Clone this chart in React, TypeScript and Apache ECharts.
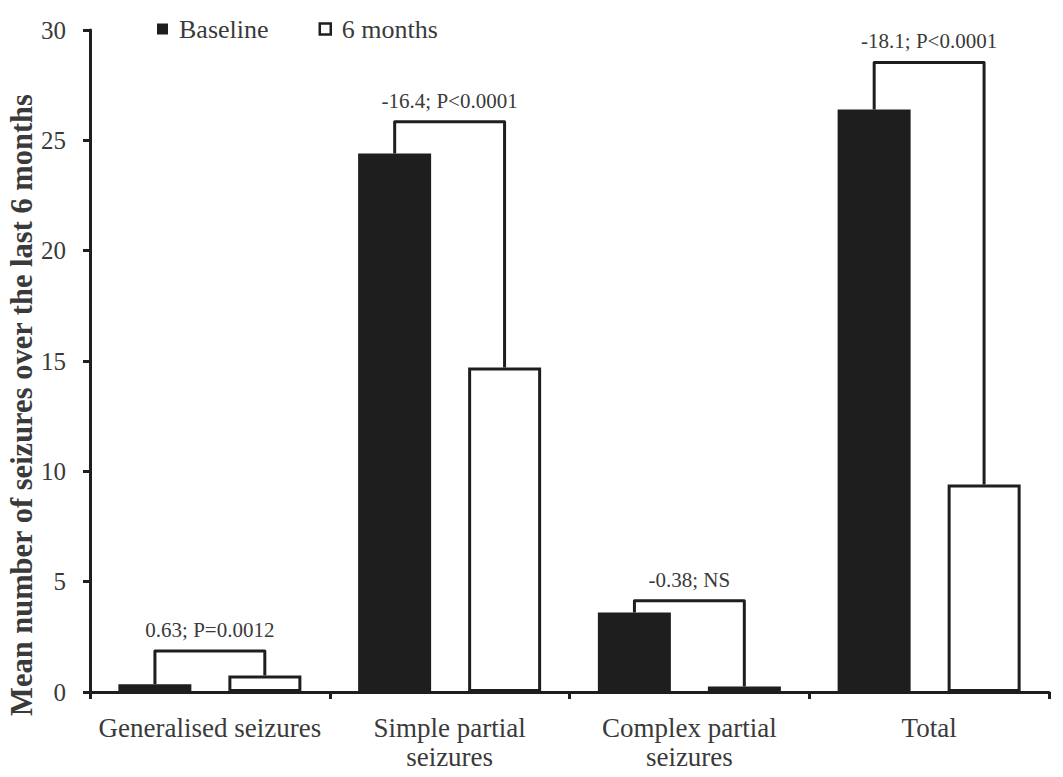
import React, { useEffect, useRef } from "react";
import * as echarts from "echarts";

const categories = ["Generalised seizures", "Simple partial\nseizures", "Complex partial\nseizures", "Total"];
const baseline = [0.35, 24.4, 3.6, 26.4];
const sixMonths = [0.75, 14.7, 0.25, 9.4];
const bracketTop = [1.86, 25.84, 4.14, 28.53];
const bracketLabels = ["0.63; P=0.0012", "-16.4; P<0.0001", "-0.38; NS", "-18.1; P<0.0001"];
const yTicks = { min: 0, max: 30, interval: 5 };

const FONT = "'Liberation Serif', 'DejaVu Serif', serif";
const TEXT = "#3a3a3a";
const INK = "#1e1e1e";

export default function App() {
  const ref = useRef<HTMLDivElement>(null);
  useEffect(() => {
    if (!ref.current) return;
    const chart = echarts.init(ref.current, null, { renderer: "svg" });
    const bracketData = categories.map((_, i) => [i, baseline[i], sixMonths[i], bracketTop[i]]);
    chart.setOption({
      animation: false,
      backgroundColor: "#ffffff",
      grid: { left: 90, right: 14, top: 30, bottom: 85 },
      legend: {
        data: [
          { name: "Baseline", icon: "rect", itemStyle: { color: INK, borderColor: INK, borderWidth: 0 } },
          { name: "6 months", icon: "rect", itemStyle: { color: "#ffffff", borderColor: INK, borderWidth: 2.5 } },
        ],
        left: 152,
        top: 11,
        itemWidth: 11,
        itemHeight: 11,
        itemGap: 50,
        textStyle: { fontFamily: FONT, fontSize: 26, color: TEXT, padding: [0, 0, 0, 6] },
      },
      xAxis: {
        type: "category",
        data: categories,
        axisLine: { lineStyle: { color: INK, width: 3 } },
        axisTick: { show: true, length: 7, lineStyle: { color: INK, width: 3 } },
        axisLabel: { fontFamily: FONT, fontSize: 27, color: TEXT, margin: 21, lineHeight: 29, interval: 0 },
      },
      yAxis: {
        type: "value",
        min: yTicks.min,
        max: yTicks.max,
        interval: yTicks.interval,
        splitLine: { show: false },
        axisLine: { show: true, lineStyle: { color: INK, width: 3 } },
        axisTick: { show: true, length: 7, lineStyle: { color: INK, width: 3 } },
        axisLabel: { fontFamily: FONT, fontSize: 25, color: TEXT, margin: 24 },
      },
      graphic: [
        {
          type: "text",
          x: 22,
          y: 405,
          rotation: Math.PI / 2,
          style: {
            text: "Mean number of seizures over the last 6 months",
            fontFamily: FONT,
            fontWeight: "bold",
            fontSize: 30.5,
            fill: TEXT,
            align: "center",
            verticalAlign: "middle",
          },
        },
      ],
      series: [
        {
          name: "Baseline",
          type: "bar",
          data: baseline,
          barWidth: 73,
          barGap: "50.7%",
          itemStyle: { color: INK, borderColor: INK, borderWidth: 3 },
        },
        {
          name: "6 months",
          type: "bar",
          data: sixMonths,
          barWidth: 73,
          itemStyle: { color: "#ffffff", borderColor: INK, borderWidth: 3 },
        },
        {
          type: "custom",
          name: "brackets",
          data: bracketData,
          z: 10,
          silent: true,
          renderItem: (params: any, api: any) => {
            const i = api.value(0);
            const b = api.value(1);
            const s = api.value(2);
            const t = api.value(3);
            const band = api.size([1, 0])[0];
            const off = band * (55 / 240);
            const c = api.coord([i, 0]);
            const x1 = c[0] - off;
            const x2 = c[0] + off;
            const yb = api.coord([i, b])[1];
            const ys = api.coord([i, s])[1];
            const yt = api.coord([i, t])[1];
            return {
              type: "group",
              children: [
                {
                  type: "polyline",
                  shape: { points: [[x1, yb], [x1, yt], [x2, yt], [x2, ys]] },
                  style: { stroke: INK, lineWidth: 3, fill: null, lineJoin: "round" },
                },
                {
                  type: "text",
                  style: {
                    text: bracketLabels[params.dataIndex],
                    x: c[0],
                    y: yt - 21,
                    align: "center",
                    verticalAlign: "middle",
                    fontFamily: FONT,
                    fontSize: 21,
                    fill: TEXT,
                  },
                },
              ],
            };
          },
        },
      ],
    });
    return () => chart.dispose();
  }, []);
  return (
    <div
      ref={ref}
      style={{ position: "fixed", left: 0, top: 0, width: 1063, height: 777, background: "#fff" }}
    />
  );
}
